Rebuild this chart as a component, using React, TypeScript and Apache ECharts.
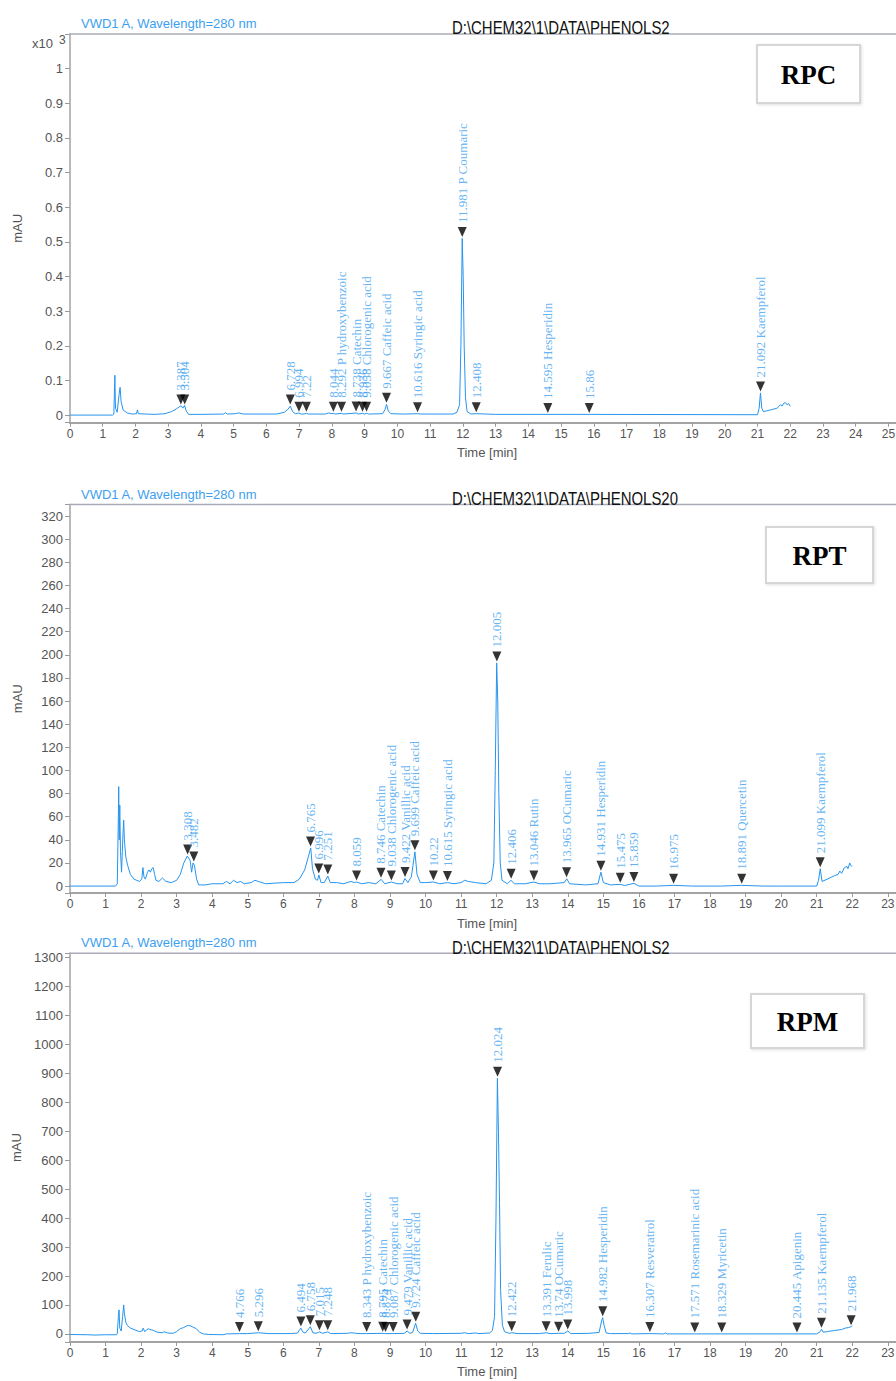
import React, { useEffect, useRef } from 'react';
import * as echarts from 'echarts';

// ---------- DATA ----------
// RPC (values in x10^3 mAU)
const RPC_TRACE: [number, number][] = [
  [0, 0], [1.3, 0], [1.34, 0.003], [1.37, 0.115], [1.39, 0.02], [1.44, 0.008], [1.5, 0.06], [1.53, 0.08],
  [1.56, 0.04], [1.62, 0.015], [1.75, 0.006], [1.9, 0.003], [2.03, 0.004], [2.06, 0.015], [2.09, 0.004],
  [2.3, 0.003], [2.6, 0.002], [2.9, 0.004], [3.1, 0.01], [3.25, 0.018], [3.39, 0.027], [3.45, 0.02],
  [3.5, 0.028], [3.55, 0.012], [3.62, 0.002], [4.0, 0.002], [4.7, 0.003], [4.75, 0.007], [4.8, 0.003],
  [5.05, 0.004], [5.15, 0.006], [5.3, 0.003], [6.3, 0.003], [6.55, 0.008], [6.65, 0.016], [6.73, 0.026],
  [6.8, 0.01], [6.88, 0.004], [6.99, 0.006], [7.06, 0.003], [7.15, 0.003], [7.22, 0.005], [7.28, 0.003],
  [7.8, 0.003], [7.9, 0.006], [8.0, 0.004], [8.04, 0.005], [8.1, 0.003], [8.29, 0.005], [8.35, 0.003],
  [8.74, 0.006], [8.8, 0.003], [8.94, 0.005], [9.0, 0.003], [9.06, 0.005], [9.12, 0.003], [9.55, 0.004],
  [9.62, 0.016], [9.67, 0.031], [9.72, 0.012], [9.8, 0.004], [10.2, 0.003], [10.62, 0.004], [10.7, 0.003],
  [11.7, 0.003], [11.82, 0.008], [11.9, 0.03], [11.94, 0.2], [11.98, 0.51], [12.01, 0.4], [12.04, 0.2],
  [12.08, 0.05], [12.13, 0.01], [12.25, 0.003], [12.41, 0.004], [13.0, 0.002], [14.6, 0.002],
  [15.86, 0.002], [21.0, 0.001], [21.05, 0.02], [21.09, 0.064], [21.13, 0.02], [21.18, 0.01],
  [21.4, 0.015], [21.6, 0.02], [21.7, 0.03], [21.75, 0.026], [21.8, 0.034], [21.85, 0.036], [21.9, 0.03],
  [21.95, 0.033], [22.0, 0.025],
];
const RPC_PEAK_TIMES = [3.387, 3.504, 6.728, 6.994, 7.22, 8.044, 8.292, 8.738, 8.936, 9.058, 9.667, 10.616, 11.981, 12.408, 14.595, 15.86, 21.092];
const RPC_PEAK_HEIGHTS = [0.026, 0.026, 0.026, 0.005, 0.005, 0.005, 0.005, 0.006, 0.005, 0.005, 0.031, 0.004, 0.51, 0.004, 0.002, 0.002, 0.064];
const RPC_PEAK_LABELS = ['3.387', '3.504', '6.728', '6.994', '7.22', '8.044', '8.292 P hydroxybenzoic', '8.738 Catechin', '8.936', '9.058 Chlorogenic acid', '9.667 Caffeic acid', '10.616 Syringic acid', '11.981 P Coumaric', '12.408', '14.595 Hesperidin', '15.86', '21.092 Kaempferol'];

// RPT (mAU)
const RPT_TRACE: [number, number][] = [
  [0, 0], [1.28, 0], [1.33, 2], [1.36, 60], [1.37, 86], [1.385, 40], [1.4, 70], [1.42, 30], [1.45, 12],
  [1.49, 45], [1.51, 57], [1.53, 40], [1.57, 25], [1.62, 18], [1.7, 10], [1.8, 6], [1.95, 4], [2.02, 6],
  [2.05, 16], [2.08, 8], [2.12, 6], [2.18, 12], [2.22, 14], [2.26, 12], [2.3, 15], [2.34, 16], [2.38, 10],
  [2.42, 5], [2.5, 4], [2.6, 7], [2.7, 4], [2.85, 3], [3.0, 5], [3.1, 10], [3.2, 20], [3.3, 26], [3.38, 22],
  [3.42, 12], [3.46, 20], [3.5, 18], [3.56, 6], [3.62, 1], [3.8, 1], [4.0, 2], [4.3, 2], [4.4, 4], [4.5, 2],
  [4.6, 5], [4.7, 3], [4.8, 4], [4.9, 2], [5.1, 3], [5.2, 5], [5.3, 4], [5.5, 2], [6.0, 3], [6.3, 3],
  [6.45, 6], [6.6, 14], [6.7, 25], [6.77, 33], [6.82, 15], [6.9, 6], [6.96, 5], [7.0, 9.5], [7.06, 3],
  [7.15, 3], [7.25, 8.6], [7.32, 3], [7.5, 3], [7.7, 2], [7.9, 4], [8.0, 3], [8.06, 3.5], [8.2, 2], [8.4, 3],
  [8.6, 2], [8.75, 5.8], [8.85, 2], [9.04, 3.5], [9.2, 2], [9.35, 2], [9.42, 6.6], [9.5, 3], [9.6, 8],
  [9.7, 29.6], [9.76, 10], [9.85, 3], [10.0, 3], [10.22, 3.5], [10.4, 2], [10.62, 3], [10.8, 2], [11.0, 3],
  [11.1, 5], [11.2, 4], [11.4, 3], [11.7, 2], [11.85, 5], [11.92, 20], [11.96, 100], [12.0, 193],
  [12.03, 160], [12.06, 80], [12.1, 20], [12.15, 5], [12.3, 2], [12.4, 5], [12.5, 2], [12.8, 2],
  [13.05, 3.5], [13.2, 2], [13.5, 2], [13.9, 3], [13.97, 6.3], [14.05, 2], [14.5, 1], [14.85, 2],
  [14.93, 12], [15.0, 3], [15.2, 1], [15.47, 1.5], [15.6, 0.5], [15.86, 2.3], [16.0, 0], [16.5, 0],
  [16.97, 0.6], [17.5, 0], [18.3, 0], [18.89, 0.6], [19.5, 0], [20.0, 0], [21.0, 0], [21.05, 5],
  [21.1, 15], [21.15, 4], [21.3, 6], [21.5, 9], [21.6, 10], [21.65, 13], [21.7, 11], [21.78, 16],
  [21.85, 17], [21.88, 15], [21.93, 20], [21.95, 18], [22.0, 17],
];
const RPT_PEAK_TIMES = [3.308, 3.482, 6.765, 6.996, 7.251, 8.059, 8.746, 9.038, 9.422, 9.699, 10.22, 10.615, 12.005, 12.406, 13.046, 13.965, 14.931, 15.475, 15.859, 16.975, 18.891, 21.099];
const RPT_PEAK_HEIGHTS = [26, 20, 33, 9.5, 8.6, 3.5, 5.8, 3.5, 6.6, 29.6, 3.5, 3, 193, 5, 3.5, 6.3, 12, 1.5, 2.3, 0.6, 0.6, 15];
const RPT_PEAK_LABELS = ['3.308', '3.482', '6.765', '6.996', '7.251', '8.059', '8.746 Catechin', '9.038 Chlorogenic acid', '9.422 Vanillic acid', '9.699 Caffeic acid', '10.22', '10.615 Syringic acid', '12.005', '12.406', '13.046 Rutin', '13.965 OCumaric', '14.931 Hesperidin', '15.475', '15.859', '16.975', '18.891 Quercetin', '21.099 Kaempferol'];

// RPM (mAU)
const RPM_TRACE: [number, number][] = [
  [0, -2], [0.5, -3], [0.7, -4], [1.0, -3], [1.3, -3], [1.33, 0], [1.36, 60], [1.38, 83], [1.4, 20],
  [1.44, 10], [1.48, 60], [1.51, 100], [1.53, 70], [1.57, 40], [1.62, 28], [1.7, 20], [1.8, 15], [1.95, 8],
  [2.03, 10], [2.06, 20], [2.1, 8], [2.16, 14], [2.2, 18], [2.25, 15], [2.35, 12], [2.45, 6], [2.6, 4],
  [2.65, 7], [2.75, 3], [2.9, 2], [3.0, 8], [3.1, 18], [3.2, 22], [3.3, 29], [3.38, 28], [3.45, 24],
  [3.55, 18], [3.65, 5], [3.75, 0], [3.9, -2], [4.3, -3], [4.4, 0], [4.77, 1], [5.0, 1], [5.3, 4], [5.6, 1],
  [6.2, 1], [6.4, 3], [6.49, 20], [6.56, 5], [6.62, 3], [6.76, 25], [6.83, 4], [6.92, 2], [7.02, 7],
  [7.1, 2], [7.25, 7], [7.33, 1], [7.8, 2], [7.9, 4], [8.0, 3], [8.1, 1], [8.34, 1], [8.8, 2], [8.87, 1],
  [9.09, 1], [9.4, 2], [9.48, 10], [9.56, 2], [9.64, 6], [9.72, 37], [9.78, 10], [9.85, 2], [10.2, 1],
  [11.0, 2], [11.1, 4], [11.2, 1], [11.4, 3], [11.5, 1], [11.8, 3], [11.88, 12], [11.94, 60], [11.98, 400],
  [12.02, 883], [12.05, 700], [12.08, 450], [12.11, 150], [12.16, 30], [12.22, 8], [12.35, 2], [12.42, 4],
  [12.6, 1], [13.2, 1], [13.39, 4], [13.5, 1], [13.74, 2], [13.9, 2], [14.0, 10], [14.08, 1], [14.6, 2],
  [14.88, 5], [14.95, 45], [14.98, 56], [15.02, 30], [15.08, 3], [15.2, 1], [15.7, 1], [15.75, 3],
  [15.8, 0], [16.3, 1], [16.7, 0], [16.75, 3], [16.8, 0], [17.57, 0], [18.33, 0], [20.45, 0], [21.0, 0],
  [21.1, 8], [21.135, 16], [21.18, 6], [21.3, 8], [21.5, 12], [21.7, 15], [21.8, 20], [21.9, 22],
  [21.97, 25], [22.0, 28],
];
const RPM_PEAK_TIMES = [4.766, 5.296, 6.494, 6.758, 7.015, 7.248, 8.343, 8.795, 8.874, 9.087, 9.479, 9.724, 12.024, 12.422, 13.391, 13.74, 13.998, 14.982, 16.307, 17.571, 18.329, 20.445, 21.135, 21.968];
const RPM_PEAK_HEIGHTS = [1, 4, 20, 25, 7, 7, 1, 2, 1, 1, 10, 37, 883, 4, 4, 2, 10, 56, 1, 0, 0, 0, 16, 25];
const RPM_PEAK_LABELS = ['4.766', '5.296', '6.494', '6.758', '7.015', '7.248', '8.343 P hydroxybenzoic', '8.795 Catechin', '8.874', '9.087 Chlorogenic acid', '9.479 Vanillic acid', '9.724 Caffeic acid', '12.024', '12.422', '13.391 Ferulic', '13.74 OCumaric', '13.998', '14.982 Hesperidin', '16.307 Resveratrol', '17.571 Rosemarinic acid', '18.329 Myricetin', '20.445 Apigenin', '21.135 Kaempferol', '21.968'];

const PANEL_TAGS = ['RPC', 'RPT', 'RPM'];
const FILE_PATHS = ['D:\\CHEM32\\1\\DATA\\PHENOLS2', 'D:\\CHEM32\\1\\DATA\\PHENOLS20', 'D:\\CHEM32\\1\\DATA\\PHENOLS2'];
const SIGNAL_NAME = 'VWD1 A, Wavelength=280 nm';
const Y_RANGES: [number, number][] = [[-0.022, 1.1], [-6, 330], [-28, 1315]];
const Y_STEPS = [0.1, 20, 100];
const Y_LABEL_MAX = [1, 320, 1300];
const X_MAX = [25.23, 23.23, 23.23];

// ---------- LAYOUT ----------
const LEFT = 70;
const PANELS = [
  { top: 34, height: 388.7, vwdY: 23, pathY: 28, timeY: 452, box: [757, 45, 103, 58] },
  { top: 504.5, height: 388.5, vwdY: 494, pathY: 499, timeY: 923, box: [766, 527, 107, 56] },
  { top: 953.3, height: 388.7, vwdY: 942, pathY: 948, timeY: 1371, box: [751, 994, 113, 54] },
];

const SANS = "'Liberation Sans', Arial, sans-serif";
const SERIF = "'Liberation Serif', 'Times New Roman', serif";
const LINE_BLUE = '#2694ee';
const LABEL_BLUE = '#3d9ff0';
const AXIS_GRAY = '#a3a3a3';
const TEXT_GRAY = '#555';

function buildOption() {
  const traces = [RPC_TRACE, RPT_TRACE, RPM_TRACE];
  const peakTimes = [RPC_PEAK_TIMES, RPT_PEAK_TIMES, RPM_PEAK_TIMES];
  const peakHeights = [RPC_PEAK_HEIGHTS, RPT_PEAK_HEIGHTS, RPM_PEAK_HEIGHTS];
  const peakLabels = [RPC_PEAK_LABELS, RPT_PEAK_LABELS, RPM_PEAK_LABELS];

  const grid = PANELS.map((p) => ({
    left: LEFT, top: p.top, width: 896 - LEFT, height: p.height,
    containLabel: false, outerBoundsMode: 'none',
  }));

  const xAxis = PANELS.map((_, i) => ({
    type: 'value', gridIndex: i, min: 0, max: X_MAX[i], interval: 1,
    axisLine: { show: true, onZero: false, lineStyle: { color: AXIS_GRAY, width: 2 } },
    axisTick: { show: true, length: 4, lineStyle: { color: '#999' } },
    splitLine: { show: false },
    axisLabel: {
      show: true, fontSize: 12, fontFamily: SANS, color: TEXT_GRAY, margin: 5,
      formatter: (v: number) => (Math.abs(v - Math.round(v)) < 1e-6 ? String(Math.round(v)) : ''),
    },
  }));

  const yAxis = PANELS.map((_, i) => {
    const step = Y_STEPS[i];
    const span = Y_RANGES[i][1] - Y_RANGES[i][0];
    return {
      type: 'value', gridIndex: i, min: Y_RANGES[i][0], max: Y_RANGES[i][1],
      minInterval: step, maxInterval: step, splitNumber: Math.round(span / step),
      name: 'mAU', nameLocation: 'middle', nameGap: 46, nameRotate: 90,
      nameTextStyle: { fontSize: 13, fontFamily: SANS, color: TEXT_GRAY },
      axisLine: { show: true, onZero: false, lineStyle: { color: AXIS_GRAY, width: 1.5 } },
      axisTick: { show: true, length: 5, lineStyle: { color: '#999' } },
      splitLine: { show: false },
      axisLabel: {
        show: true, fontSize: 13, fontFamily: SANS, color: TEXT_GRAY, margin: 7,
        formatter: (v: number) => {
          const k = Math.round(v / step);
          if (Math.abs(v / step - k) > 1e-6) return '';
          const r = Math.round(k * step * 1000) / 1000;
          if (r < 0 || r > Y_LABEL_MAX[i] + 1e-9) return '';
          return String(r);
        },
      },
    };
  });

  const series: any[] = [];
  traces.forEach((tr, i) => {
    series.push({
      type: 'line', xAxisIndex: i, yAxisIndex: i, data: tr, showSymbol: false, symbol: 'none',
      lineStyle: { color: LINE_BLUE, width: 1 }, silent: true, z: 2, clip: true,
    });
    series.push({
      type: 'scatter', xAxisIndex: i, yAxisIndex: i, z: 3, silent: true,
      symbol: 'path://M0 0 L10 0 L5 10 Z', symbolSize: [9, 10], symbolKeepAspect: false,
      symbolOffset: [0, -6.5],
      itemStyle: { color: '#000' },
      data: peakTimes[i].map((t, j) => ({ value: [t, peakHeights[i][j]], name: peakLabels[i][j] })),
      label: {
        show: true, formatter: '{b}', position: 'top', rotate: 90, align: 'left', verticalAlign: 'middle',
        distance: 4, color: LABEL_BLUE, fontFamily: SERIF, fontSize: 13,
      },
    });
  });

  const graphic: any[] = [];
  PANELS.forEach((p, i) => {
    graphic.push({
      type: 'line', shape: { x1: LEFT - 1, y1: p.top, x2: 896, y2: p.top },
      style: { stroke: '#a9acb8', lineWidth: 1.5 }, z: 1,
    });
    graphic.push({
      type: 'text', x: 81, y: p.vwdY,
      style: { text: SIGNAL_NAME, fill: LABEL_BLUE, fontSize: 13, fontFamily: SANS, textVerticalAlign: 'middle' },
    });
    graphic.push({
      type: 'text', x: 452, y: p.pathY, scaleX: 0.83, z: 5,
      style: { text: FILE_PATHS[i], fill: '#111', fontSize: 18, fontFamily: SANS, textVerticalAlign: 'middle' },
    });
    graphic.push({
      type: 'text', x: 457, y: p.timeY,
      style: { text: 'Time [min]', fill: TEXT_GRAY, fontSize: 13, fontFamily: SANS, textVerticalAlign: 'middle' },
    });
    const [bx, by, bw, bh] = p.box;
    graphic.push({
      type: 'rect', shape: { x: bx, y: by, width: bw, height: bh }, z: 6,
      style: { fill: '#fff', stroke: '#d6d6d6', lineWidth: 2, shadowBlur: 3, shadowColor: 'rgba(0,0,0,0.12)', shadowOffsetX: 1, shadowOffsetY: 1 },
    });
    graphic.push({
      type: 'text', x: bx + bw / 2, y: by + bh / 2 + 1, z: 7,
      style: { text: PANEL_TAGS[i], fill: '#000', fontSize: 27, fontWeight: 'bold', fontFamily: SERIF, textAlign: 'center', textVerticalAlign: 'middle' },
    });
  });
  graphic.push({
    type: 'text', x: 32, y: 43,
    style: { text: 'x10', fill: TEXT_GRAY, fontSize: 13, fontFamily: SANS, textVerticalAlign: 'middle' },
  });
  graphic.push({
    type: 'text', x: 59, y: 40,
    style: { text: '3', fill: TEXT_GRAY, fontSize: 12, fontFamily: SANS, textVerticalAlign: 'middle' },
  });

  return {
    animation: false,
    backgroundColor: '#ffffff',
    grid, xAxis, yAxis, series, graphic,
  };
}

export default function App() {
  const ref = useRef<HTMLDivElement>(null);
  useEffect(() => {
    document.body.style.margin = '0';
    if (!ref.current) return;
    const chart = echarts.init(ref.current, null, { renderer: 'svg' });
    chart.setOption(buildOption() as any);
    return () => chart.dispose();
  }, []);
  return <div ref={ref} style={{ width: 896, height: 1381 }} />;
}
